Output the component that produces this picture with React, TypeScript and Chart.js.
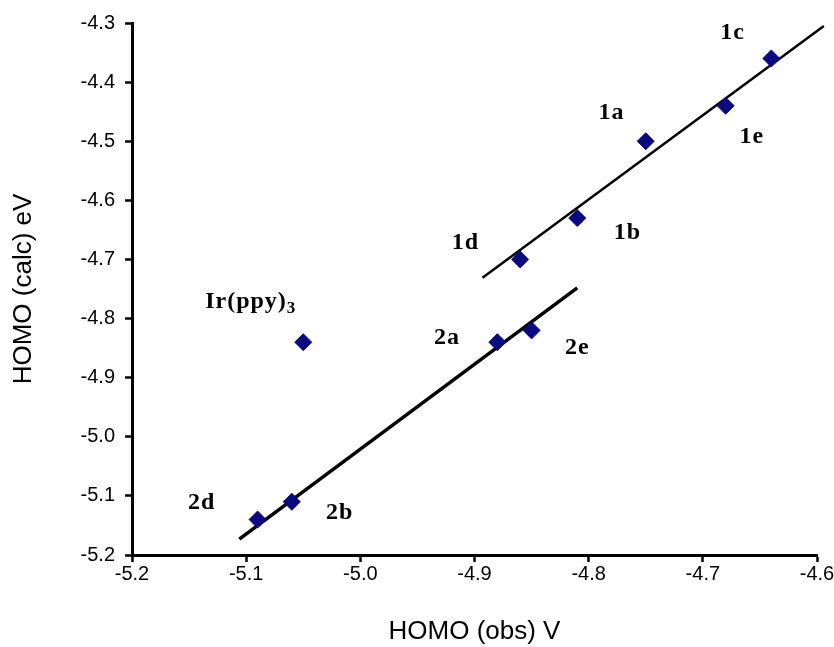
import React, { useEffect, useRef } from "react";
import { Chart, registerables } from "chart.js";

Chart.register(...registerables);

// Data points (HOMO obs vs calc)
const pointNames = ["1a", "1b", "1c", "1d", "1e", "2a", "2b", "2d", "2e", "Ir(ppy)3"];
const obsHomo = [-4.75, -4.81, -4.64, -4.86, -4.68, -4.88, -5.06, -5.09, -4.85, -5.05];
const calcHomo = [-4.5, -4.63, -4.36, -4.7, -4.44, -4.84, -5.11, -5.14, -4.82, -4.84];

// Fitted lines (end points)
const fit1X = [-4.893, -4.594];
const fit1Y = [-4.731, -4.305];
const fit2X = [-5.106, -4.81];
const fit2Y = [-5.173, -4.748];

// Annotation labels
const labelText = ["1c", "1a", "1e", "1b", "1d", "Ir(ppy)", "2a", "2e", "2d", "2b"];
const labelSub = ["", "", "", "", "", "3", "", "", "", ""];
const labelX = [-4.674, -4.78, -4.657, -4.766, -4.908, -5.096, -4.924, -4.81, -5.139, -5.018];
const labelY = [-4.317, -4.452, -4.493, -4.655, -4.671, -4.772, -4.833, -4.85, -5.112, -5.129];

// Tick values
const xTicks = [-5.2, -5.1, -5.0, -4.9, -4.8, -4.7, -4.6];
const yTicks = [-5.2, -5.1, -5.0, -4.9, -4.8, -4.7, -4.6, -4.5, -4.4, -4.3];

const SANS = '"Liberation Sans", Arial, sans-serif';
const SERIF = '"Liberation Serif", "Times New Roman", serif';

const labelPlugin = {
  id: "pointLabels",
  afterDatasetsDraw(chart: any) {
    const { ctx, scales } = chart;
    const xs = scales.x;
    const ys = scales.y;
    ctx.save();
    ctx.fillStyle = "#000";
    ctx.textBaseline = "middle";
    ctx.textAlign = "left";
    try {
      (ctx as any).letterSpacing = "1px";
    } catch (e) {}
    const mainFont = `bold 24px ${SERIF}`;
    const subFont = `bold 17px ${SERIF}`;
    labelText.forEach((t, i) => {
      const px = xs.getPixelForValue(labelX[i]);
      const py = ys.getPixelForValue(labelY[i]);
      ctx.font = mainFont;
      const w = ctx.measureText(t).width;
      let sw = 0;
      if (labelSub[i]) {
        ctx.font = subFont;
        sw = ctx.measureText(labelSub[i]).width;
      }
      const left = px - (w + sw) / 2;
      ctx.font = mainFont;
      ctx.fillText(t, left, py);
      if (labelSub[i]) {
        ctx.font = subFont;
        ctx.fillText(labelSub[i], left + w, py + 7);
      }
    });
    ctx.restore();
  },
};

export default function App() {
  const canvasRef = useRef<HTMLCanvasElement | null>(null);

  useEffect(() => {
    document.body.style.margin = "0";
    const canvas = canvasRef.current;
    if (!canvas) return;

    const points = obsHomo.map((x, i) => ({ x, y: calcHomo[i] }));
    const line1 = fit1X.map((x, i) => ({ x, y: fit1Y[i] }));
    const line2 = fit2X.map((x, i) => ({ x, y: fit2Y[i] }));

    const chart = new Chart(canvas, {
      type: "scatter",
      data: {
        datasets: [
          {
            label: "HOMO",
            data: points,
            pointStyle: "rectRot",
            pointRadius: 8.5,
            pointHoverRadius: 8.5,
            backgroundColor: "#0a0a80",
            borderColor: "#0a0a80",
            borderWidth: 1,
            showLine: false,
          },
          {
            label: "fit 1",
            data: line1,
            showLine: true,
            pointRadius: 0,
            borderColor: "#000",
            borderWidth: 2.5,
            clip: false,
          },
          {
            label: "fit 2",
            data: line2,
            showLine: true,
            pointRadius: 0,
            borderColor: "#000",
            borderWidth: 3.5,
            clip: false,
          },
        ] as any,
      },
      options: {
        responsive: false,
        animation: false,
        layout: { padding: { top: 23, right: 17, bottom: 0, left: 0 } },
        plugins: {
          legend: { display: false },
          tooltip: { enabled: false },
        },
        scales: {
          x: {
            type: "linear",
            position: "bottom",
            min: -5.2,
            max: -4.6,
            afterBuildTicks: (s: any) => {
              s.ticks = xTicks.map((v) => ({ value: v }));
            },
            afterFit: (s: any) => {
              s.height = 92;
              s.paddingLeft = 0;
              s.paddingRight = 0;
            },
            grid: {
              drawOnChartArea: false,
              drawTicks: true,
              tickLength: 7,
              tickWidth: 2.5,
              tickColor: "#000",
            },
            border: { color: "#000", width: 3 },
            ticks: {
              color: "#000",
              padding: 0,
              font: { family: SANS, size: 20 },
              callback: (v: any) => Number(v).toFixed(1),
            },
            title: {
              display: true,
              text: "HOMO (obs) V",
              color: "#000",
              font: { family: SANS, size: 26 },
              padding: { top: 0, bottom: 0 },
            },
          },
          y: {
            type: "linear",
            min: -5.2,
            max: -4.3,
            afterBuildTicks: (s: any) => {
              s.ticks = yTicks.map((v) => ({ value: v }));
            },
            afterFit: (s: any) => {
              s.width = 132;
              s.paddingTop = 0;
              s.paddingBottom = 0;
            },
            grid: {
              drawOnChartArea: false,
              drawTicks: true,
              tickLength: 7,
              tickWidth: 2.5,
              tickColor: "#000",
            },
            border: { color: "#000", width: 3 },
            ticks: {
              color: "#000",
              padding: 10,
              font: { family: SANS, size: 20 },
              callback: (v: any) => Number(v).toFixed(1),
            },
            title: {
              display: true,
              text: "HOMO (calc) eV",
              color: "#000",
              font: { family: SANS, size: 26 },
              padding: { top: 8, bottom: 0 },
            },
          },
        },
      },
      plugins: [labelPlugin],
    });

    return () => {
      chart.destroy();
    };
  }, []);

  return (
    <div style={{ width: 834, height: 647, background: "#fff" }}>
      <canvas ref={canvasRef} width={834} height={647} style={{ display: "block" }} />
    </div>
  );
}
